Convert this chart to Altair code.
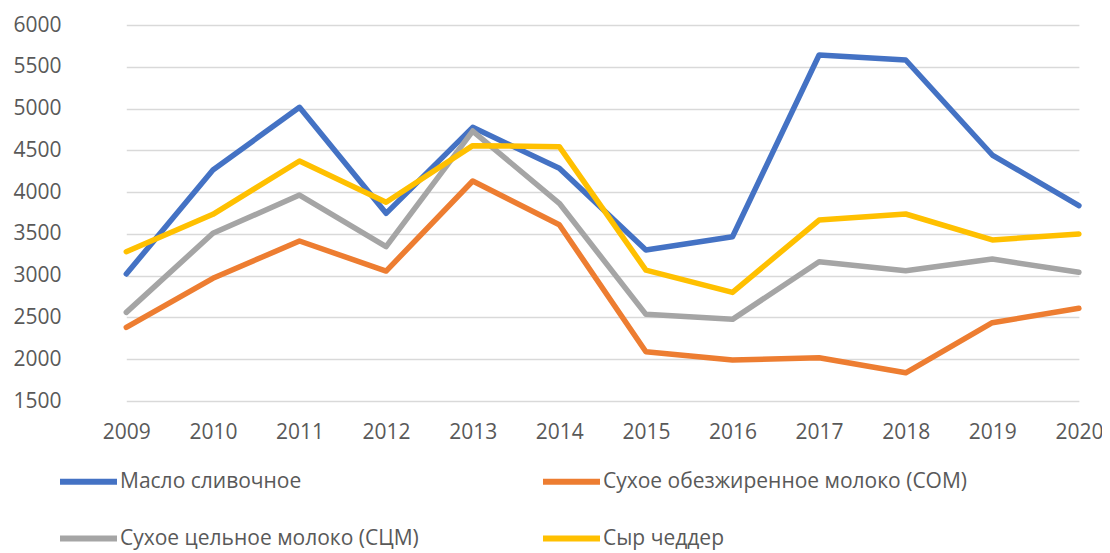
import altair as alt
import pandas as pd

years = ["2009", "2010", "2011", "2012", "2013", "2014", "2015", "2016", "2017", "2018", "2019", "2020"]
series_names = [
    "Масло сливочное",
    "Сухое обезжиренное молоко (СОМ)",
    "Сухое цельное молоко (СЦМ)",
    "Сыр чеддер",
]
butter = [3020, 4265, 5015, 3746, 4775, 4285, 3307, 3466, 5641, 5581, 4444, 3837]
smp = [2382, 2968, 3415, 3055, 4133, 3610, 2090, 1990, 2018, 1838, 2437, 2609]
wmp = [2561, 3507, 3965, 3347, 4731, 3866, 2537, 2477, 3167, 3059, 3199, 3040]
cheddar = [3287, 3734, 4372, 3878, 4556, 4544, 3067, 2800, 3666, 3738, 3427, 3498]
colors = ["#4472C4", "#ED7D31", "#A5A5A5", "#FFC000"]
y_ticks = [1500, 2000, 2500, 3000, 3500, 4000, 4500, 5000, 5500, 6000]

rows = []
for name, vals in zip(series_names, [butter, smp, wmp, cheddar]):
    for i, (yr, v) in enumerate(zip(years, vals)):
        rows.append({"year": yr, "value": v, "series": name, "order": i})
df = pd.DataFrame(rows)

chart = (
    alt.Chart(df)
    .mark_line(strokeWidth=5.5, strokeCap="round", strokeJoin="round")
    .encode(
        x=alt.X(
            "year:O",
            sort=years,
            scale=alt.Scale(type="point", range=[43.3, 995.9], padding=0),
            axis=alt.Axis(
                title=None,
                labelAngle=0,
                domain=False,
                ticks=False,
                grid=False,
                labelFont="Open Sans",
                labelFontSize=21,
                labelColor="#595959",
                labelPadding=20,
            ),
        ),
        y=alt.Y(
            "value:Q",
            scale=alt.Scale(domain=[1500, 6000], nice=False, zero=False),
            axis=alt.Axis(
                title=None,
                values=y_ticks,
                format="d",
                domain=False,
                ticks=False,
                grid=True,
                gridColor="#D9D9D9",
                gridWidth=1.5,
                labelFont="Open Sans",
                labelFontSize=21,
                labelColor="#595959",
                labelPadding=22,
            ),
        ),
        color=alt.Color(
            "series:N",
            sort=series_names,
            scale=alt.Scale(domain=series_names, range=colors),
            legend=alt.Legend(
                title=None,
                orient="none",
                direction="horizontal",
                legendX=-26,
                legendY=425,
                columns=2,
                columnPadding=112,
                rowPadding=13,
                symbolType="stroke",
                symbolSize=3249,
                symbolStrokeWidth=6,
                labelFont="Open Sans",
                labelFontSize=21,
                labelColor="#595959",
                labelOffset=0,
                labelLimit=600,
                padding=0,
            ),
        ),
        order="order:Q",
    )
    .properties(
        width=1019,
        height=376,
        padding={"left": 75, "top": 17, "right": 0, "bottom": 152},
        autosize=alt.AutoSizeParams(type="none"),
    )
    .configure_view(stroke=None)
)

chart.save("out.html", embed_options={"renderer": "svg", "actions": False})
